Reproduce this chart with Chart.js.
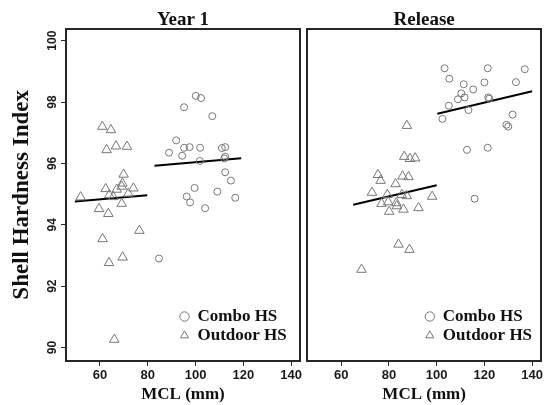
<!DOCTYPE html>
<html><head><meta charset="utf-8">
<script src="https://cdn.jsdelivr.net/npm/chart.js@4/dist/chart.umd.min.js"></script>
<style>
html,body{margin:0;padding:0;background:#fff;}
#wrap{position:relative;width:544px;height:405px;background:#fff;}
canvas{position:absolute;top:0;}
#c1{left:0;}
#c2{left:304px;}
</style></head><body>
<div id="wrap"><canvas id="c1" width="304" height="405"></canvas><canvas id="c2" width="240" height="405"></canvas></div>
<script>
// ---- data ----
const PANELS = ['Year 1', 'Release'];
const SERIES = ['Combo HS', 'Outdoor HS'];
const X_TITLE = 'MCL (mm)';
const Y_TITLE = 'Shell Hardness Index';
const X_TICKS = [60, 80, 100, 120, 140];
const Y_TICKS = [90, 92, 94, 96, 98, 100];

// Year 1
const y1ComboMCL = [100.1, 102.3, 95.2, 107.0, 91.9, 88.9, 95.2, 97.5, 101.9, 94.4, 111.0, 112.4, 112.4, 112.0, 101.8, 112.4, 114.8, 99.6, 109.1, 96.3, 116.6, 97.7, 104.0, 84.7];
const y1ComboSHI = [98.20, 98.13, 97.83, 97.54, 96.75, 96.35, 96.51, 96.53, 96.51, 96.25, 96.50, 96.53, 96.22, 96.16, 96.08, 95.71, 95.44, 95.20, 95.08, 94.92, 94.88, 94.73, 94.54, 92.90];
const y1OutMCL = [61.0, 64.6, 62.8, 66.7, 71.3, 69.9, 51.9, 62.4, 69.4, 69.1, 74.0, 67.0, 63.9, 65.6, 71.9, 69.1, 59.6, 63.5, 61.1, 76.5, 63.8, 69.5, 66.0];
const y1OutSHI = [97.20, 97.09, 96.44, 96.56, 96.55, 95.64, 94.90, 95.17, 95.35, 95.25, 95.19, 95.15, 94.97, 94.91, 95.02, 94.69, 94.52, 94.36, 93.54, 93.81, 92.76, 92.94, 90.26];
const y1ComboFitMCL = [82.8, 119.1];
const y1ComboFitSHI = [95.92, 96.17];
const y1OutFitMCL = [49.5, 79.8];
const y1OutFitSHI = [94.76, 94.96];

// Release
const relComboMCL = [103.3, 121.4, 136.9, 105.3, 111.3, 120.0, 133.2, 115.3, 110.3, 108.9, 111.7, 121.6, 122.0, 105.1, 113.3, 102.4, 131.8, 129.2, 130.0, 112.7, 121.4, 115.9];
const relComboSHI = [99.10, 99.10, 99.07, 98.76, 98.58, 98.64, 98.65, 98.41, 98.28, 98.09, 98.15, 98.15, 98.11, 97.88, 97.74, 97.45, 97.59, 97.26, 97.20, 96.44, 96.51, 94.85];
const relOutMCL = [87.5, 86.4, 88.8, 91.0, 75.4, 76.5, 85.7, 88.2, 82.8, 72.9, 79.3, 85.4, 87.5, 98.1, 76.9, 79.7, 83.1, 83.3, 92.4, 80.1, 86.1, 84.0, 88.6, 68.5];
const relOutSHI = [97.23, 96.22, 96.15, 96.17, 95.63, 95.44, 95.58, 95.56, 95.33, 95.05, 94.98, 94.98, 94.94, 94.92, 94.69, 94.74, 94.71, 94.61, 94.55, 94.43, 94.50, 93.36, 93.19, 92.54];
const relComboFitMCL = [100.3, 140.0];
const relComboFitSHI = [97.62, 98.35];
const relOutFitMCL = [65.0, 100.0];
const relOutFitSHI = [94.65, 95.29];

// ---- build ----
const X_MIN = 45.8, X_MAX = 143.7, Y_MIN = 89.57, Y_MAX = 100.38;
const INK = '#1a1a1a';
const FRAME = '#262626';
const PT = '#777777';
const SANS = 'Liberation Sans, Arial, sans-serif';
const SERIF = 'Liberation Serif, Times New Roman, serif';

function pts(xs, ys) { return xs.map((x, i) => ({x: x, y: ys[i]})); }
function noPad(s) { s.paddingLeft = 0; s.paddingRight = 0; s.paddingTop = 0; s.paddingBottom = 0; }

const legendInside = {
  id: 'legendInside',
  afterLayout(chart, args, opts) {
    const lg = chart.legend, ca = chart.chartArea;
    if (!lg) return;
    const w = lg.width, h = lg.height;
    lg.left = ca.left + opts.dx; lg.top = ca.top + opts.dy;
    lg.right = lg.left + w; lg.bottom = lg.top + h;
  }
};

function makeChart(id, panel, cfg) {
  const datasets = [
    {label: SERIES[0], data: pts(cfg.cx, cfg.cy), pointStyle: 'circle', pointRadius: 3.5, pointHoverRadius: 3.5,
     pointBorderColor: PT, borderColor: PT, pointBackgroundColor: 'rgba(0,0,0,0)', backgroundColor: 'rgba(0,0,0,0)', pointBorderWidth: 1, borderWidth: 1},
    {label: SERIES[1], data: pts(cfg.ox, cfg.oy), pointStyle: 'triangle', pointRadius: 5.5, pointHoverRadius: 5.5,
     pointBorderColor: PT, borderColor: PT, pointBackgroundColor: 'rgba(0,0,0,0)', backgroundColor: 'rgba(0,0,0,0)', pointBorderWidth: 1, borderWidth: 1},
    {label: 'fit1', data: pts(cfg.cfx, cfg.cfy), showLine: true, pointRadius: 0, borderColor: '#000', borderWidth: 2},
    {label: 'fit2', data: pts(cfg.ofx, cfg.ofy), showLine: true, pointRadius: 0, borderColor: '#000', borderWidth: 2}
  ];
  return new Chart(document.getElementById(id), {
    type: 'scatter',
    data: {datasets},
    plugins: [legendInside],
    options: {
      responsive: false, animation: false, devicePixelRatio: 1,
      events: [],
      layout: {autoPadding: false, padding: {left: 0, right: cfg.padRight, top: 0, bottom: 0}},
      plugins: {
        title: {display: false},
        tooltip: {enabled: false},
        legend: {
          position: 'chartArea', align: 'start',
          labels: {
            usePointStyle: true, boxWidth: 9, boxHeight: 6.6, padding: 2,
            font: {family: SERIF, weight: 'bold', size: 17}, color: '#111',
            filter: (item) => item.datasetIndex < 2
          }
        },
        legendInside: {dx: cfg.legDx, dy: cfg.legDy}
      },
      scales: {
        x: {
          type: 'linear', position: 'bottom', min: X_MIN, max: X_MAX,
          afterBuildTicks: (s) => { s.ticks = X_TICKS.map(v => ({value: v})); },
          ticks: {font: {family: SANS, weight: 'bold', size: 13}, color: INK, padding: 1.5, maxRotation: 0, autoSkip: false},
          grid: {display: true, drawOnChartArea: false, drawTicks: true, tickLength: 5, color: FRAME, lineWidth: 1},
          border: {display: true, color: FRAME, width: 2},
          title: {display: true, text: X_TITLE, font: {family: SERIF, weight: 'bold', size: 17}, color: '#111', padding: {top: 0, bottom: 0}},
          afterFit: (s) => { s.height = 44.3; noPad(s); }
        },
        xTop: {
          type: 'linear', position: 'top', min: X_MIN, max: X_MAX,
          ticks: {display: false},
          grid: {display: true, drawOnChartArea: false, drawTicks: false},
          border: {display: true, color: FRAME, width: 2},
          title: {display: true, text: PANELS[panel], font: {family: SERIF, weight: 'bold', size: 19}, color: '#111', padding: {top: 8.2, bottom: 0}},
          afterFit: (s) => { s.height = 29; noPad(s); }
        },
        y: {
          type: 'linear', position: 'left', min: Y_MIN, max: Y_MAX,
          afterBuildTicks: (s) => { s.ticks = Y_TICKS.map(v => ({value: v})); },
          ticks: {display: cfg.yLabels, minRotation: 90, maxRotation: 90, crossAlign: 'center', padding: -2,
                  font: {family: SANS, weight: 'bold', size: 12}, color: INK},
          grid: {display: true, drawOnChartArea: false, drawTicks: cfg.yLabels, tickLength: 5, color: FRAME, lineWidth: 1},
          border: {display: true, color: FRAME, width: 2},
          title: {display: cfg.yLabels, text: Y_TITLE, font: {family: SERIF, weight: 'bold', size: 23}, color: '#111', padding: {top: 8, bottom: 0}},
          afterFit: (s) => { s.width = cfg.yWidth; noPad(s); }
        },
        yRight: {
          type: 'linear', position: 'right', min: Y_MIN, max: Y_MAX,
          ticks: {display: false},
          grid: {display: true, drawOnChartArea: false, drawTicks: false},
          border: {display: true, color: FRAME, width: 2},
          afterFit: (s) => { s.width = 0; noPad(s); }
        }
      }
    }
  });
}

makeChart('c1', 0, {
  cx: y1ComboMCL, cy: y1ComboSHI, ox: y1OutMCL, oy: y1OutSHI,
  cfx: y1ComboFitMCL, cfy: y1ComboFitSHI, ofx: y1OutFitMCL, ofy: y1OutFitSHI,
  yLabels: true, yWidth: 66, padRight: 4, legDx: 112, legDy: 277
});
makeChart('c2', 1, {
  cx: relComboMCL, cy: relComboSHI, ox: relOutMCL, oy: relOutSHI,
  cfx: relComboFitMCL, cfy: relComboFitSHI, ofx: relOutFitMCL, ofy: relOutFitSHI,
  yLabels: false, yWidth: 3.3, padRight: 3, legDx: 116, legDy: 277
});
</script>
</body></html>
